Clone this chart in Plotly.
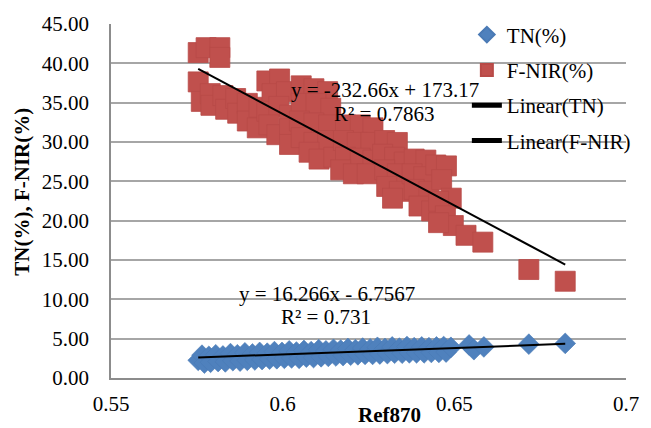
import plotly.graph_objects as go

# ---------------- data ----------------
ref870_tn = [0.5754, 0.5765, 0.5772, 0.5785, 0.5790, 0.5805, 0.5812, 0.5826, 0.5833, 0.5848,
             0.5855, 0.5868, 0.5876, 0.5890, 0.5897, 0.5912, 0.5919, 0.5933, 0.5940, 0.5955,
             0.5962, 0.5976, 0.5983, 0.5998, 0.6005, 0.6019, 0.6026, 0.6040, 0.6048, 0.6062,
             0.6069, 0.6083, 0.6090, 0.6105, 0.6112, 0.6126, 0.6133, 0.6148, 0.6155, 0.6169,
             0.6176, 0.6190, 0.6198, 0.6212, 0.6219, 0.6233, 0.6240, 0.6255, 0.6262, 0.6276,
             0.6283, 0.6298, 0.6305, 0.6319, 0.6326, 0.6340, 0.6348, 0.6362, 0.6369, 0.6383,
             0.6390, 0.6405, 0.6412, 0.6426, 0.6433, 0.6448, 0.6455, 0.6469, 0.6476, 0.6490,
             0.6543, 0.6557, 0.6586, 0.6717, 0.6823]
tn_pct = [2.25, 2.90, 1.90, 2.75, 2.00, 2.95, 2.10, 2.80, 2.05, 3.10,
          2.20, 2.95, 2.15, 3.20, 2.25, 3.05, 2.30, 3.25, 2.35, 3.15,
          2.40, 3.35, 2.45, 3.25, 2.50, 3.45, 2.55, 3.30, 2.50, 3.50,
          2.65, 3.35, 2.60, 3.60, 2.70, 3.45, 2.75, 3.65, 2.80, 3.55,
          2.85, 3.75, 2.90, 3.60, 2.95, 3.80, 3.00, 3.70, 3.00, 3.90,
          3.05, 3.75, 3.10, 3.95, 3.15, 3.80, 3.15, 4.00, 3.20, 3.85,
          3.20, 3.95, 3.20, 3.85, 3.25, 3.95, 3.25, 4.00, 3.30, 3.90,
          4.20, 3.60, 3.95, 4.30, 4.40]

ref870_fnir = [0.5754, 0.5777, 0.5817, 0.5817, 0.5754, 0.5763, 0.5789, 0.5791, 0.5826, 0.5834,
               0.5863, 0.5869, 0.5897, 0.5897, 0.5931, 0.5926, 0.5954, 0.5991, 0.5969, 0.6011,
               0.5954, 0.5989, 0.6020, 0.5960, 0.5983, 0.6020, 0.6020, 0.6054, 0.6091, 0.6131,
               0.6054, 0.6097, 0.6140, 0.6049, 0.6091, 0.6134, 0.6054, 0.6091, 0.6131, 0.6077,
               0.6106, 0.6149, 0.6183, 0.6226, 0.6263, 0.6177, 0.6217, 0.6257, 0.6183, 0.6226,
               0.6263, 0.6169, 0.6206, 0.6246, 0.6297, 0.6334, 0.6291, 0.6326, 0.6354, 0.6297,
               0.6334, 0.6303, 0.6340, 0.6320, 0.6383, 0.6417, 0.6377, 0.6411, 0.6383, 0.6426,
               0.6397, 0.6434, 0.6446, 0.6477, 0.6463, 0.6491, 0.6454, 0.6474, 0.6497, 0.6454,
               0.6534, 0.6583, 0.6717, 0.6823]
fnir_pct = [41.37, 41.99, 41.99, 40.75, 37.64, 35.16, 36.15, 34.66, 35.90, 34.16,
            35.53, 33.66, 34.91, 32.67, 34.41, 31.80, 37.76, 38.01, 36.15, 36.40,
            33.91, 34.53, 33.42, 32.17, 30.93, 31.68, 29.69, 37.14, 36.77, 36.40,
            34.91, 34.91, 34.29, 32.67, 32.42, 32.17, 30.56, 29.94, 30.19, 28.70,
            27.83, 28.07, 32.17, 32.17, 31.80, 30.19, 29.94, 29.94, 28.07, 27.95,
            27.70, 26.46, 25.96, 25.96, 30.19, 29.94, 28.45, 28.07, 27.45, 26.46,
            25.96, 24.35, 23.73, 22.86, 27.83, 27.70, 25.96, 25.59, 23.98, 23.73,
            21.86, 21.24, 27.08, 26.96, 25.22, 22.86, 22.48, 20.62, 19.38, 19.75,
            18.14, 17.27, 13.79, 12.30]

# linear trendline coefficients shown on the chart: slope, intercept, R²
tn_fit = [16.266, -6.7567, 0.731]
fnir_fit = [-232.66, 173.17, 0.7863]

series_names = ["TN(%)", "F-NIR(%)", "Linear(TN)", "Linear(F-NIR)"]
x_ticks = [0.55, 0.6, 0.65, 0.7]
x_tick_labels = ["0.55", "0.6", "0.65", "0.7"]
y_ticks = [0, 5, 10, 15, 20, 25, 30, 35, 40, 45]
y_tick_labels = ["0.00", "5.00", "10.00", "15.00", "20.00", "25.00", "30.00", "35.00", "40.00", "45.00"]

# ---------------- figure ----------------
FONT = "Liberation Serif"
BLUE = "#4F81BD"
RED = "#C0504D"


def trend(xs, fit):
    x0, x1 = min(xs), max(xs)
    return [x0, x1], [fit[0] * x0 + fit[1], fit[0] * x1 + fit[1]]


def eq_text(fit):
    sign = "+" if fit[1] >= 0 else "-"
    return f"y = {fit[0]:g}x {sign} {abs(fit[1]):g}"


fig = go.Figure()
fig.add_trace(go.Scatter(
    x=ref870_tn, y=tn_pct, mode="markers", name=series_names[0], legendgroup="a",
    marker=dict(symbol="diamond", size=16, color=BLUE, line=dict(width=0.6, color="#4A7AB5")),
))
fig.add_trace(go.Scatter(
    x=ref870_fnir, y=fnir_pct, mode="markers", name=series_names[1], legendgroup="b",
    marker=dict(symbol="square", size=20, color=RED, line=dict(width=0.8, color="#B84A47")),
))
tx, ty = trend(ref870_tn, tn_fit)
fig.add_trace(go.Scatter(x=tx, y=ty, mode="lines", name=series_names[2], legendgroup="c",
                         line=dict(color="black", width=2)))
fx, fy = trend(ref870_fnir, fnir_fit)
fig.add_trace(go.Scatter(x=fx, y=fy, mode="lines", name=series_names[3], legendgroup="d",
                         line=dict(color="black", width=2)))

annotations = [
    dict(text=eq_text(fnir_fit), x=0.533, y=0.8127),
    dict(text=f"R² = {fnir_fit[2]:g}", x=0.531, y=0.7466),
    dict(text=eq_text(tn_fit), x=0.419, y=0.2369),
    dict(text=f"R² = {tn_fit[2]:g}", x=0.417, y=0.1736),
]
for a in annotations:
    a.update(xref="paper", yref="paper", showarrow=False, xanchor="center", yanchor="middle",
             font=dict(family=FONT, size=21, color="black"))

annotations.append(dict(text="<b>Ref870</b>", xref="paper", yref="paper", x=0.541, y=-0.105,
                        showarrow=False, xanchor="center", yanchor="middle",
                        font=dict(family=FONT, size=21, color="black")))
annotations.append(dict(text="<b>TN(%), F-NIR(%)</b>", xref="paper", yref="paper", x=-0.173, y=0.526,
                        textangle=-90, showarrow=False, xanchor="center", yanchor="middle",
                        font=dict(family=FONT, size=21, color="black")))

fig.update_layout(
    width=651, height=428,
    margin=dict(l=111, r=15, t=18, b=47),
    paper_bgcolor="white", plot_bgcolor="white",
    font=dict(family=FONT, size=21, color="black"),
    showlegend=True,
    legend=dict(x=0.691, y=1.027, xanchor="left", yanchor="top", bgcolor="rgba(0,0,0,0)",
                tracegroupgap=5, itemsizing="constant",
                font=dict(family=FONT, size=21, color="black")),
    annotations=annotations,
    xaxis=dict(range=[0.55, 0.7], tickvals=x_ticks, ticktext=x_tick_labels, showgrid=False,
               zeroline=False, showline=True, linecolor="#8C8C8C", linewidth=1.5,
               ticks="", ticklabelstandoff=6),
    yaxis=dict(range=[0, 45], tickvals=y_ticks, ticktext=y_tick_labels, showgrid=True,
               gridcolor="#A6A6A6", gridwidth=1.5, zeroline=False, showline=True,
               linecolor="#8C8C8C", linewidth=1.5, ticks="", ticklabelstandoff=16),
)

fig.write_html("out.html")
